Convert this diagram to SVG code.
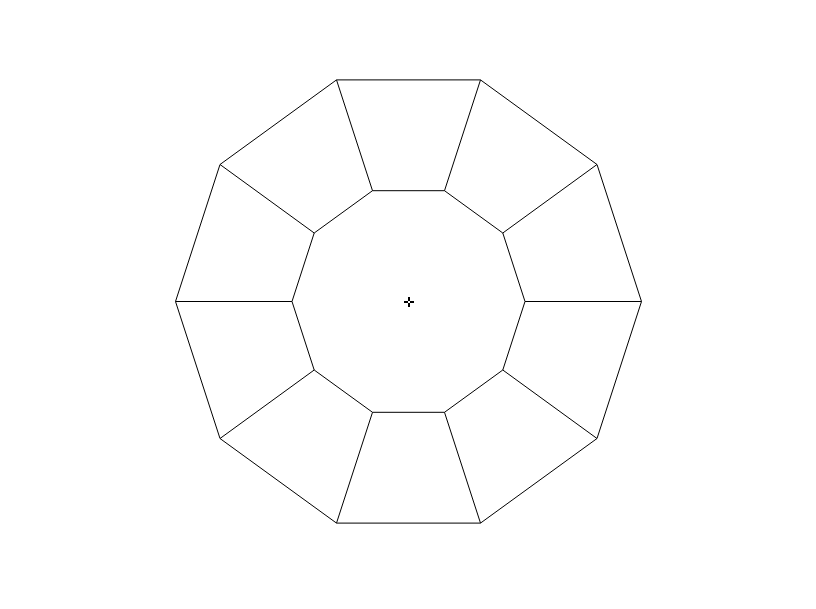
<svg xmlns="http://www.w3.org/2000/svg" width="816" height="609" viewBox="0 0 816 609">
<style>
.ln{fill:none;stroke:#000;stroke-width:1;stroke-linejoin:miter}
.cx{stroke:#000;stroke-width:2}
</style>
<rect width="816" height="609" fill="#fff"/>
<g id="outer"><polygon class="ln" points="641.5,301.5 597,438.5 480.5,523.1 336.5,523.1 220,438.5 175.5,301.5 220,164.5 336.5,79.9 480.5,79.9 597,164.5"/></g>
<g id="inner"><polygon class="ln" points="525,301.5 502.8,370 444.5,412.3 372.5,412.3 314.2,370 292,301.5 314.2,233 372.5,190.7 444.5,190.7 502.8,233"/></g>
<g id="spokes">
<line class="ln" x1="641.5" y1="301.5" x2="525" y2="301.5"/>
<line class="ln" x1="597" y1="438.5" x2="502.8" y2="370"/>
<line class="ln" x1="480.5" y1="523.1" x2="444.5" y2="412.3"/>
<line class="ln" x1="336.5" y1="523.1" x2="372.5" y2="412.3"/>
<line class="ln" x1="220" y1="438.5" x2="314.2" y2="370"/>
<line class="ln" x1="175.5" y1="301.5" x2="292" y2="301.5"/>
<line class="ln" x1="220" y1="164.5" x2="314.2" y2="233"/>
<line class="ln" x1="336.5" y1="79.9" x2="372.5" y2="190.7"/>
<line class="ln" x1="480.5" y1="79.9" x2="444.5" y2="190.7"/>
<line class="ln" x1="597" y1="164.5" x2="502.8" y2="233"/>
</g>
<g id="center">
<line class="cx" x1="404" y1="302" x2="408" y2="302"/>
<line class="cx" x1="410" y1="302" x2="414" y2="302"/>
<line class="cx" x1="409" y1="297" x2="409" y2="301"/>
<line class="cx" x1="409" y1="303" x2="409" y2="307"/>
</g>
</svg>
